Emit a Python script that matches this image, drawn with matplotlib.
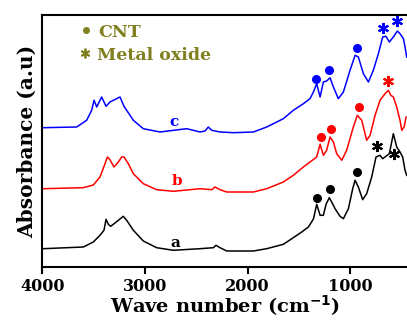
import matplotlib
matplotlib.use("Agg")
import matplotlib.pyplot as plt

# FTIR spectra (wavenumber, absorbance in arbitrary units)
wn_a = [3990, 3600, 3503, 3438, 3399, 3379, 3357, 3334, 3308, 3259, 3211, 3178, 3113, 3016,
        2886, 2723, 2463, 2333, 2307, 2268, 2203, 1943, 1813, 1651, 1554, 1472, 1407, 1358,
        1326, 1293, 1261, 1235, 1203, 1180, 1147, 1099, 1066, 1017, 975, 952, 920, 878, 839,
        790, 748, 709, 683, 651, 618, 579, 546, 514, 488, 465, 449]
abs_a = [18.3, 20, 25, 31.7, 36.7, 47.7, 42.7, 40.7, 42.7, 46.7, 50.7, 46.7, 36.7, 26,
         19.3, 16.7, 18.3, 19.3, 21.7, 19.3, 16, 16, 18.3, 22.7, 29.3, 35, 40, 48,
         62.7, 51.7, 51.7, 62.7, 69.3, 65, 58.3, 50.7, 48.3, 58.3, 78.3, 86.7, 80, 67.3, 73.3,
         90, 110, 111.7, 108.3, 110.7, 113.3, 133.3, 120, 115, 110, 96.7, 91.7]

wn_b = [3990, 3600, 3503, 3438, 3389, 3366, 3341, 3302, 3259, 3227, 3204, 3162, 3113, 3016,
        2886, 2723, 2463, 2349, 2317, 2268, 2203, 1943, 1813, 1651, 1554, 1456, 1391, 1326,
        1293, 1261, 1229, 1196, 1163, 1131, 1082, 1034, 969, 930, 887, 839, 806, 757, 709,
        660, 627, 604, 579, 546, 514, 497, 474, 455]
abs_b = [78.3, 79.3, 82, 90, 103.3, 110, 107.3, 100, 105, 110, 110, 103.3, 93.3, 83.3,
         77.3, 75.7, 78.3, 77.3, 80, 77.3, 75, 75, 78.3, 85, 91.7, 100, 105, 110,
         122.7, 111.7, 116.7, 130, 125, 113.3, 106.7, 116.7, 140, 151.7, 146.7, 126.7, 131.7, 151.7, 166.7,
         173.3, 176.7, 171.7, 170, 160, 146.7, 136.7, 140, 150]

wn_c = [3990, 3665, 3568, 3519, 3496, 3470, 3422, 3379, 3341, 3276, 3243, 3204, 3113, 3016,
        2853, 2593, 2463, 2414, 2382, 2349, 2268, 2138, 1943, 1813, 1651, 1554, 1456, 1391,
        1358, 1326, 1293, 1261, 1229, 1196, 1163, 1115, 1066, 1001, 952, 920, 871, 822, 774,
        725, 683, 651, 618, 579, 540, 514, 481, 465, 449]
abs_c = [139.3, 140, 146.7, 156.7, 166.7, 160, 170, 160.7, 165, 168.3, 170, 160.7, 146.7, 138.3,
         135, 138.3, 135, 136, 140, 136.7, 135, 134.3, 135, 140, 148.3, 156.7, 163.3, 168.3,
         175, 183.3, 170, 185, 186, 189.3, 180, 168.3, 175, 196.7, 211.7, 210, 193.3, 185, 196.7,
         213.3, 230, 230.7, 225, 230, 236, 233.3, 228.3, 220, 210]

# peak markers: CNT dots and metal oxide asterisks
dot_wn_a = [1320, 1196, 936]
dot_y_a = [69.3, 78.3, 95]
star_wn_a = [741, 572]
star_y_a = [121, 113.3]
dot_wn_b = [1287, 1190, 917]
dot_y_b = [130, 137.7, 160]
star_wn_b = [634]
star_y_b = [185.7]
dot_wn_c = [1333, 1203, 930]
dot_y_c = [188.3, 196.7, 219.3]
star_wn_c = [683, 540]
star_y_c = [239.3, 246]

labels = ["a", "b", "c"]
label_wn = [2707, 2690, 2716]
label_y = [20.3, 82, 141]

series = [
    (wn_a, abs_a, dot_wn_a, dot_y_a, star_wn_a, star_y_a, "black"),
    (wn_b, abs_b, dot_wn_b, dot_y_b, star_wn_b, star_y_b, "red"),
    (wn_c, abs_c, dot_wn_c, dot_y_c, star_wn_c, star_y_c, "blue"),
]

plt.rcParams['font.family'] = ['DejaVu Serif']
plt.rcParams['font.weight'] = 'bold'

fig = plt.figure(figsize=(4.07, 3.26), dpi=100)
ax = fig.add_axes([0.104, 0.181, 0.8985, 0.773])

for (wx, wy, dx, dy, sx, sy, col), lab, lx, ly in zip(series, labels, label_wn, label_y):
    ax.plot(wx, wy, color=col, lw=1.1)
    ax.plot(dx, dy, 'o', color=col, ms=5.5)
    ax.plot(sx, sy, ls='none', marker=(6, 2, 0), color=col, ms=8, mew=1.5)
    ax.text(lx, ly, lab, color=col, fontsize=11, fontweight='bold', ha='center', va='baseline')

olive = '#808020'
ax.text(0.152, 0.914, "CNT", transform=ax.transAxes, color=olive, fontsize=12.5,
        fontweight='bold', va='baseline')
ax.text(0.149, 0.821, "Metal oxide", transform=ax.transAxes, color=olive, fontsize=12.5,
        fontweight='bold', va='baseline')
ax.plot([0.12], [0.94], 'o', transform=ax.transAxes, color=olive, ms=4)
ax.plot([0.118], [0.85], ls='none', marker=(6, 2, 0), transform=ax.transAxes,
        color=olive, ms=7, mew=1.3)

ax.set_xlim(4000, 436)
ax.set_ylim(0, 252)
ax.set_xticks([4000, 3000, 2000, 1000])
ax.set_yticks([])
ax.tick_params(axis='x', direction='out', length=5, width=1.5, labelsize=11.5, pad=3)
for lbl in ax.get_xticklabels():
    lbl.set_fontweight('bold')
for sp in ax.spines.values():
    sp.set_linewidth(1.5)

ax.set_xlabel(r"Wave number (cm$^{\mathbf{-1}}$)", fontsize=14, fontweight='bold', labelpad=-1)
ax.set_ylabel("Absorbance (a.u)", fontsize=14.5, fontweight='bold', labelpad=4)

fig.savefig("out.png", dpi=100)
plt.close(fig)
